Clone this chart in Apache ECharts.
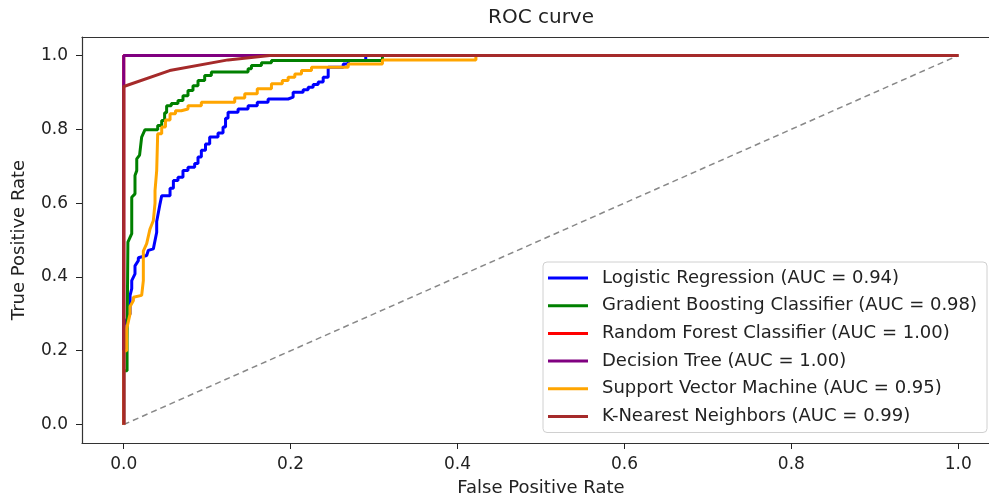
<!DOCTYPE html>
<html>
<head>
<meta charset="utf-8">
<title>ROC curve</title>
<script src="https://cdn.jsdelivr.net/npm/echarts/dist/echarts.min.js"></script>
<style>
    html, body { margin: 0; padding: 0; background: #fff; overflow: hidden; }
    /* the right spine sits just past the window edge, as in the picture */
    #chart { width: 1000px; height: 500px; }
</style>
</head>
<body>
<div id="chart"></div>
<script>
// model names as shown in the legend
const modelNames = [
    'Logistic Regression (AUC = 0.94)',
    'Gradient Boosting Classifier (AUC = 0.98)',
    'Random Forest Classifier (AUC = 1.00)',
    'Decision Tree (AUC = 1.00)',
    'Support Vector Machine (AUC = 0.95)',
    'K-Nearest Neighbors (AUC = 0.99)'
];
const tickValues = [0, 0.2, 0.4, 0.6, 0.8, 1.0];

// [fpr, tpr] points
const logisticRoc = [
    [0, 0], [0, 0.27], [0.0076, 0.3], [0.0076, 0.35], [0.0096, 0.368], [0.0096, 0.39],
    [0.0135, 0.408], [0.0135, 0.43], [0.0175, 0.444], [0.0175, 0.452], [0.0275, 0.458],
    [0.0295, 0.472], [0.0355, 0.476], [0.0395, 0.521], [0.0395, 0.55], [0.0435, 0.598],
    [0.0455, 0.62], [0.0555, 0.62], [0.0555, 0.64], [0.0595, 0.64], [0.0595, 0.661],
    [0.065, 0.661], [0.065, 0.67], [0.071, 0.67], [0.071, 0.688], [0.077, 0.688],
    [0.077, 0.697], [0.085, 0.697], [0.085, 0.707], [0.089, 0.707], [0.089, 0.725],
    [0.093, 0.725], [0.093, 0.743], [0.098, 0.743], [0.098, 0.76], [0.103, 0.76],
    [0.103, 0.779], [0.113, 0.779], [0.113, 0.79], [0.119, 0.79], [0.119, 0.806],
    [0.122, 0.806], [0.122, 0.83], [0.125, 0.83], [0.125, 0.846], [0.137, 0.846],
    [0.137, 0.855], [0.149, 0.855], [0.149, 0.864], [0.16, 0.864], [0.16, 0.873],
    [0.173, 0.873], [0.173, 0.882], [0.197, 0.882], [0.197, 0.887], [0.203, 0.887],
    [0.203, 0.9], [0.215, 0.9], [0.215, 0.907], [0.221, 0.907], [0.221, 0.914],
    [0.227, 0.914], [0.227, 0.921], [0.233, 0.921], [0.233, 0.928], [0.239, 0.928],
    [0.239, 0.941], [0.245, 0.941], [0.245, 0.968], [0.263, 0.968], [0.263, 0.977],
    [0.269, 0.977], [0.269, 0.986], [0.29, 0.986], [0.29, 1], [1, 1]
];
const boostingRoc = [
    [0, 0], [0, 0.146], [0.004, 0.146], [0.004, 0.23], [0.005, 0.23], [0.005, 0.494],
    [0.0096, 0.517], [0.0096, 0.616], [0.0135, 0.625], [0.0135, 0.675], [0.0156, 0.688],
    [0.0156, 0.72], [0.019, 0.73], [0.0215, 0.779], [0.0255, 0.799], [0.0407, 0.799],
    [0.0407, 0.81], [0.0455, 0.81], [0.0455, 0.824], [0.049, 0.824], [0.049, 0.845],
    [0.0514, 0.845], [0.0514, 0.864], [0.057, 0.864], [0.057, 0.87], [0.065, 0.87],
    [0.065, 0.878], [0.071, 0.878], [0.071, 0.891], [0.077, 0.891], [0.077, 0.905],
    [0.083, 0.905], [0.083, 0.918], [0.089, 0.918], [0.089, 0.932], [0.097, 0.932],
    [0.097, 0.946], [0.105, 0.946], [0.105, 0.955], [0.149, 0.955], [0.149, 0.964],
    [0.153, 0.964], [0.153, 0.973], [0.165, 0.973], [0.165, 0.98], [0.177, 0.98],
    [0.177, 0.986], [0.31, 0.986], [0.31, 1], [1, 1]
];
const forestRoc = [[0, 0], [0, 1], [1, 1]];
const treeRoc = [[0, 0], [0, 1], [1, 1]];
const svmRoc = [
    [0, 0], [0, 0.2], [0.0036, 0.2], [0.0036, 0.26], [0.0076, 0.3], [0.0076, 0.32],
    [0.0116, 0.336], [0.0116, 0.345], [0.0215, 0.35], [0.0235, 0.39], [0.0235, 0.47],
    [0.0275, 0.49], [0.0315, 0.53], [0.0355, 0.553], [0.0375, 0.6], [0.0375, 0.634],
    [0.0395, 0.688], [0.0407, 0.788], [0.0455, 0.788], [0.0455, 0.806], [0.05, 0.806],
    [0.05, 0.825], [0.0555, 0.825], [0.0555, 0.842], [0.062, 0.842], [0.062, 0.85],
    [0.069, 0.85], [0.069, 0.855], [0.077, 0.855], [0.077, 0.864], [0.093, 0.864],
    [0.093, 0.873], [0.133, 0.873], [0.133, 0.885], [0.145, 0.885], [0.145, 0.896],
    [0.16, 0.896], [0.16, 0.91], [0.177, 0.91], [0.177, 0.923], [0.19, 0.923],
    [0.19, 0.932], [0.197, 0.932], [0.197, 0.941], [0.205, 0.941], [0.205, 0.95],
    [0.213, 0.95], [0.213, 0.959], [0.225, 0.959], [0.225, 0.968], [0.269, 0.968],
    [0.269, 0.977], [0.31, 0.977], [0.31, 0.988], [0.422, 0.988], [0.422, 1], [1, 1]
];
const knnRoc = [[0, 0], [0, 0.916], [0.055, 0.959], [0.125, 0.988], [0.175, 1], [1, 1]];
const chanceLine = [[0, 0], [1, 1]];

const lineColors = ['#0000ff', '#008000', '#ff0000', '#800080', '#ffa500', '#a52a2a'];
const rocData = [logisticRoc, boostingRoc, forestRoc, treeRoc, svmRoc, knnRoc];

const chart = echarts.init(document.getElementById('chart'));
const font = 'DejaVu Sans';
const spine = { show: true, onZero: false, lineStyle: { color: '#333', width: 1.2 } };

function valueAxis(name) {
    return {
        type: 'value',
        min: -0.05,
        max: 1.05,
        name: name,
        nameLocation: 'middle',
        nameTextStyle: { fontFamily: font, fontSize: 18, color: '#222' },
        axisLine: spine,
        axisTick: {
            show: true,
            length: 6,
            customValues: tickValues,
            lineStyle: { color: '#222', width: 1 }
        },
        axisLabel: {
            customValues: tickValues,
            fontFamily: font,
            fontSize: 17,
            color: '#222',
            formatter: v => v.toFixed(1)
        },
        splitLine: { show: false }
    };
}

let xAxis = valueAxis('False Positive Rate');
xAxis.nameGap = 36;
xAxis.axisLabel.margin = 13;
let yAxis = valueAxis('True Positive Rate');
yAxis.nameGap = 54;
yAxis.axisLabel.margin = 14;
// top spine only
let topAxis = {
    type: 'value',
    position: 'top',
    min: -0.05,
    max: 1.05,
    axisLine: spine,
    axisTick: { show: false },
    axisLabel: { show: false },
    splitLine: { show: false }
};

let series = rocData.map((d, i) => ({
    type: 'line',
    name: modelNames[i],
    data: d,
    showSymbol: false,
    symbol: 'none',
    lineStyle: { color: lineColors[i], width: 3 },
    itemStyle: { color: lineColors[i] },
    z: 3 + i
}));
// diagonal chance line
series.push({
    type: 'line',
    name: 'chance',
    data: chanceLine,
    symbol: 'none',
    lineStyle: { color: '#888', width: 1.5, type: [6, 4] },
    z: 2
});

const option = {
    animation: false,
    backgroundColor: '#fff',
    title: {
        text: 'ROC curve',
        left: 541,
        top: 8,
        textAlign: 'center',
        padding: 0,
        textStyle: { fontFamily: font, fontSize: 20, fontWeight: 'normal', color: '#222' }
    },
    grid: {
        left: 82,
        right: 0,
        top: 37,
        bottom: 57,
        outerBoundsMode: 'none', // keep the plot box exactly where it is set
        show: false
    },
    legend: {
        data: modelNames,
        orient: 'vertical',
        left: 543,
        top: 262,
        padding: [7, 10, 7, 5],
        itemWidth: 40,
        itemHeight: 3,
        itemGap: 9.7,
        icon: 'rect',
        backgroundColor: '#fff',
        borderColor: '#d0d0d0',
        borderWidth: 1,
        borderRadius: 4,
        textStyle: {
            fontFamily: font,
            fontSize: 18,
            lineHeight: 18,
            color: '#222',
            padding: [0, 0, 0, 9]
        }
    },
    xAxis: [xAxis, topAxis],
    yAxis: yAxis,
    series: series
};
chart.setOption(option);
</script>
</body>
</html>
